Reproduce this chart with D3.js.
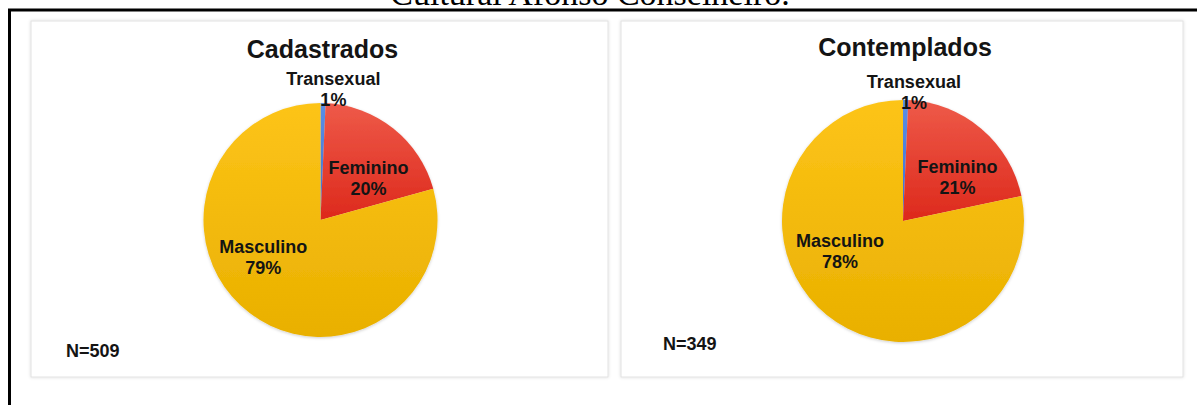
<!DOCTYPE html>
<html>
<head>
<meta charset="utf-8">
<script src="https://cdn.jsdelivr.net/npm/d3@7"></script>
<style>
  body { margin: 0; background: #fff; }
  svg { display: block; }
  .lbl { font-family: "Liberation Sans", Arial, sans-serif; font-weight: bold; fill: #141414; }
</style>
</head>
<body>
<svg width="1197" height="405"></svg>
<script>
// data
var categories = ['Transexual', 'Feminino', 'Masculino'];
var cadastrados = [0.7, 20, 79.3];
var contemplados = [0.7, 21, 78.3];
var pctLabels1 = ['1%', '20%', '79%'];
var pctLabels2 = ['1%', '21%', '78%'];
var titles = ['Cadastrados', 'Contemplados'];
var nLabels = ['N=509', 'N=349'];

var svg = d3.select('svg');
var defs = svg.append('defs');

function grad(id, c1, c2, x2, y2) {
    var g = defs.append('linearGradient').attr('id', id)
        .attr('x1', 0).attr('y1', 0).attr('x2', x2).attr('y2', y2);
    g.append('stop').attr('offset', '0%').attr('stop-color', c1);
    g.append('stop').attr('offset', '100%').attr('stop-color', c2);
}
grad('gBlue', '#5b8fe6', '#3d6fcf', 0, 1);
grad('gRed', '#ee5a49', '#dd291c', 0, 1);
grad('gYellow', '#fdc418', '#e9b000', 0, 1);

var f = defs.append('filter').attr('id', 'pieShadow').attr('x', '-10%').attr('y', '-10%').attr('width', '120%').attr('height', '120%');
f.append('feDropShadow').attr('dx', 0).attr('dy', 1).attr('stdDeviation', 1.5).attr('flood-color', '#000').attr('flood-opacity', 0.2);

var pf = defs.append('filter').attr('id', 'panelShadow').attr('x', '-5%').attr('y', '-5%').attr('width', '110%').attr('height', '110%');
pf.append('feDropShadow').attr('dx', 0).attr('dy', 0).attr('stdDeviation', 1.5).attr('flood-color', '#000').attr('flood-opacity', 0.15);

var fills = ['url(#gBlue)', 'url(#gRed)', 'url(#gYellow)'];
var color = d3.scaleOrdinal().domain(categories).range(fills);

// caption cut off at the top of the page
svg.append('text').attr('x', 590).attr('y', 5)
    .attr('text-anchor', 'middle')
    .style('font-family', '"Liberation Serif", "Times New Roman", serif')
    .style('font-size', '34px')
    .text('Cultural Afonso Conselheiro.');

// outer frame
svg.append('path').attr('d', 'M 9.5,420 L 9.5,10 L 1210,10')
    .attr('fill', 'none').attr('stroke', '#000').attr('stroke-width', 3);

var charts = [
    { title: titles[0], values: cadastrados, pct: pctLabels1, n: nLabels[0],
      panel: { x: 31, y: 21, w: 577, h: 356 }, cx: 320.5, cy: 220, r: 117,
      titleY: 58, nX: 66, nY: 357,
      labelPos: [[0.11, -1.12], [0.41, -0.36], [-0.49, 0.32]] },
    { title: titles[1], values: contemplados, pct: pctLabels2, n: nLabels[1],
      panel: { x: 621, y: 21, w: 562, h: 356 }, cx: 903, cy: 221, r: 121,
      titleY: 56, nX: 663, nY: 350,
      labelPos: [[0.09, -1.07], [0.45, -0.36], [-0.52, 0.25]] }
];

charts.forEach(function (c) {
    var g = svg.append('g');

    g.append('rect')
        .attr('x', c.panel.x).attr('y', c.panel.y)
        .attr('width', c.panel.w).attr('height', c.panel.h)
        .attr('fill', '#fff').attr('stroke', '#e2e2e2').attr('stroke-width', 1)
        .style('filter', 'url(#panelShadow)');

    g.append('text').attr('class', 'lbl')
        .attr('x', c.cx + 2).attr('y', c.titleY)
        .attr('text-anchor', 'middle')
        .style('font-size', '25px')
        .text(c.title);

    var wedges = d3.pie().sort(null).value(function (d) { return d; })(c.values);
    var arc = d3.arc().innerRadius(0).outerRadius(c.r);

    var pie = g.append('g')
        .attr('transform', 'translate(' + c.cx + ',' + c.cy + ')')
        .style('filter', 'url(#pieShadow)');
    pie.selectAll('path').data(wedges).enter().append('path')
        .attr('d', arc)
        .attr('fill', function (d, i) { return color(categories[i]); });

    // labels, placed relative to the pie radius
    var labels = g.selectAll('.slab').data(wedges).enter().append('text')
        .attr('class', 'lbl slab')
        .attr('text-anchor', 'middle')
        .style('font-size', '18px')
        .attr('transform', function (d, i) {
            var p = c.labelPos[i];
            return 'translate(' + (c.cx + p[0] * c.r) + ',' + (c.cy + p[1] * c.r) + ')';
        });
    labels.append('tspan').attr('x', 0).attr('y', -4).text(function (d, i) { return categories[i]; });
    labels.append('tspan').attr('x', 0).attr('y', 17).text(function (d, i) { return c.pct[i]; });

    g.append('text').attr('class', 'lbl')
        .attr('x', c.nX).attr('y', c.nY)
        .style('font-size', '18px')
        .text(c.n);
});
</script>
</body>
</html>
